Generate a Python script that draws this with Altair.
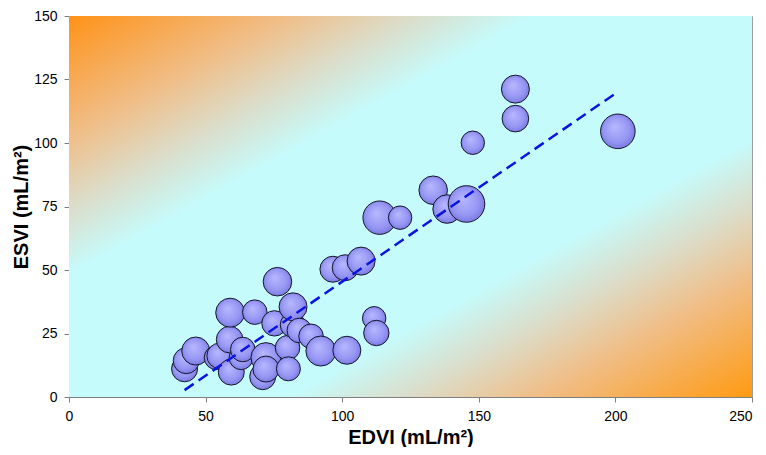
import altair as alt
import pandas as pd

# Bubble data
edvi = [163.4, 163.4, 147.8, 200.9, 133.3, 145.5, 138.4, 113.7, 121.2, 106.9,
        96.6, 101.1, 76.3, 111.7, 112.5, 59.0, 68.0, 82.0, 75.2, 81.9,
        84.3, 88.6, 92.2, 101.7, 80.0, 80.3, 72.1, 72.1, 70.9, 58.8,
        46.4, 42.9, 42.3, 55.1, 63.6, 63.0, 59.4, 53.9]
esvi = [121.2, 109.6, 100.1, 104.6, 81.4, 76.0, 74.0, 70.6, 70.6, 53.5,
        50.3, 50.9, 45.4, 31.0, 25.2, 33.2, 33.4, 35.5, 29.0, 28.4,
        26.2, 23.9, 18.1, 18.4, 19.4, 11.1, 15.5, 11.0, 8.0, 22.6,
        18.1, 14.3, 11.1, 16.2, 18.7, 15.5, 9.8, 15.5]
bubble = [19.6, 17.7, 13.7, 29.9, 20.4, 33.5, 20.4, 27.9, 13.7, 19.6,
          16.9, 16.9, 20.4, 13.7, 16.1, 21.0, 15.1, 19.6, 16.1, 15.6,
          15.1, 15.1, 22.5, 19.6, 15.1, 14.4, 22.5, 16.9, 16.9, 17.7,
          19.6, 16.9, 16.9, 16.1, 15.1, 14.4, 16.9, 14.4]

# Fitted line end points
fit_edvi = [42.3, 201.1]
fit_esvi = [2.7, 120.3]

x_ticks = [0, 50, 100, 150, 200, 250]
y_ticks = [0, 25, 50, 75, 100, 125, 150]

df = pd.DataFrame({"EDVI": edvi, "ESVI": esvi, "W": bubble}).sort_values("EDVI").reset_index(drop=True)
df["ord"] = range(len(df))
fit = pd.DataFrame({"EDVI": fit_edvi, "ESVI": fit_esvi})

W, H = 683, 381
FONT = "Liberation Sans"

orange = "#FF9218"
cyan = "#C6FBFB"
bg_grad = alt.LinearGradient(
    gradient="linear", x1=0, y1=0, x2=1, y2=1,
    stops=[
        alt.GradientStop(offset=0.0, color=orange),
        alt.GradientStop(offset=0.16, color="#F0BE88"),
        alt.GradientStop(offset=0.25, color="#DCDCC8"),
        alt.GradientStop(offset=0.34, color=cyan),
        alt.GradientStop(offset=0.66, color=cyan),
        alt.GradientStop(offset=0.75, color="#DCDCC8"),
        alt.GradientStop(offset=0.84, color="#F0BE88"),
        alt.GradientStop(offset=1.0, color="#FF9A12"),
    ],
)

bg = alt.Chart(pd.DataFrame({"a": [0]})).mark_rect(color=bg_grad).encode(
    x=alt.value(0), x2=alt.value(W), y=alt.value(0), y2=alt.value(H)
)

xscale = alt.Scale(domain=[0, 250], nice=False, zero=False)
yscale = alt.Scale(domain=[0, 150], nice=False, zero=False)

common_axis = dict(
    grid=False, domainColor="#7f7f7f", tickColor="#7f7f7f", tickSize=5,
    labelFont=FONT, labelFontSize=14, labelColor="black",
    titleFont=FONT, titleFontSize=20, titleFontWeight="bold", titleColor="black",
)

xaxis = alt.Axis(
    values=x_ticks, title="EDVI (mL/m²)", labelPadding=7,
    titleBaseline="alphabetic", titleY=46, titleX=W / 2, titleAlign="center",
    labelAlign=alt.ExprRef(expr="datum.value == 250 ? 'right' : 'center'"),
    **common_axis,
)
yaxis = alt.Axis(
    values=y_ticks, title="ESVI (mL/m²)", labelPadding=7,
    titleBaseline="alphabetic", titleX=-42, titleY=H / 2, titleAlign="center",
    titleAngle=270,
    **common_axis,
)

bub_grad = alt.RadialGradient(
    gradient="radial", x1=0.4, y1=0.35, r1=0.0, x2=0.5, y2=0.5, r2=0.6,
    stops=[
        alt.GradientStop(offset=0.0, color="#B8B8FF"),
        alt.GradientStop(offset=0.6, color="#9797F4"),
        alt.GradientStop(offset=1.0, color="#6E6EDA"),
    ],
)

points = alt.Chart(df).mark_circle(
    fill=bub_grad, stroke="#15152a", strokeWidth=1, opacity=1, fillOpacity=1
).encode(
    x=alt.X("EDVI:Q", scale=xscale, axis=xaxis),
    y=alt.Y("ESVI:Q", scale=yscale, axis=yaxis),
    size=alt.Size("W:Q", scale=alt.Scale(domain=[0, 35], range=[0, 1400], zero=True), legend=None),
    order=alt.Order("ord:Q"),
)

line = alt.Chart(fit).mark_line(color="#0A14E0", strokeWidth=2.5, strokeDash=[11, 6]).encode(
    x=alt.X("EDVI:Q", scale=xscale),
    y=alt.Y("ESVI:Q", scale=yscale),
)

chart = alt.layer(bg, points, line).properties(
    width=W, height=H,
    autosize=alt.AutoSizeParams(type="none"),
    padding={"left": 61, "top": 8, "right": 6, "bottom": 50},
).configure_view(stroke="#A0A0A0", strokeWidth=1)

chart.save("out.html", embed_options={"renderer": "svg", "actions": False})
